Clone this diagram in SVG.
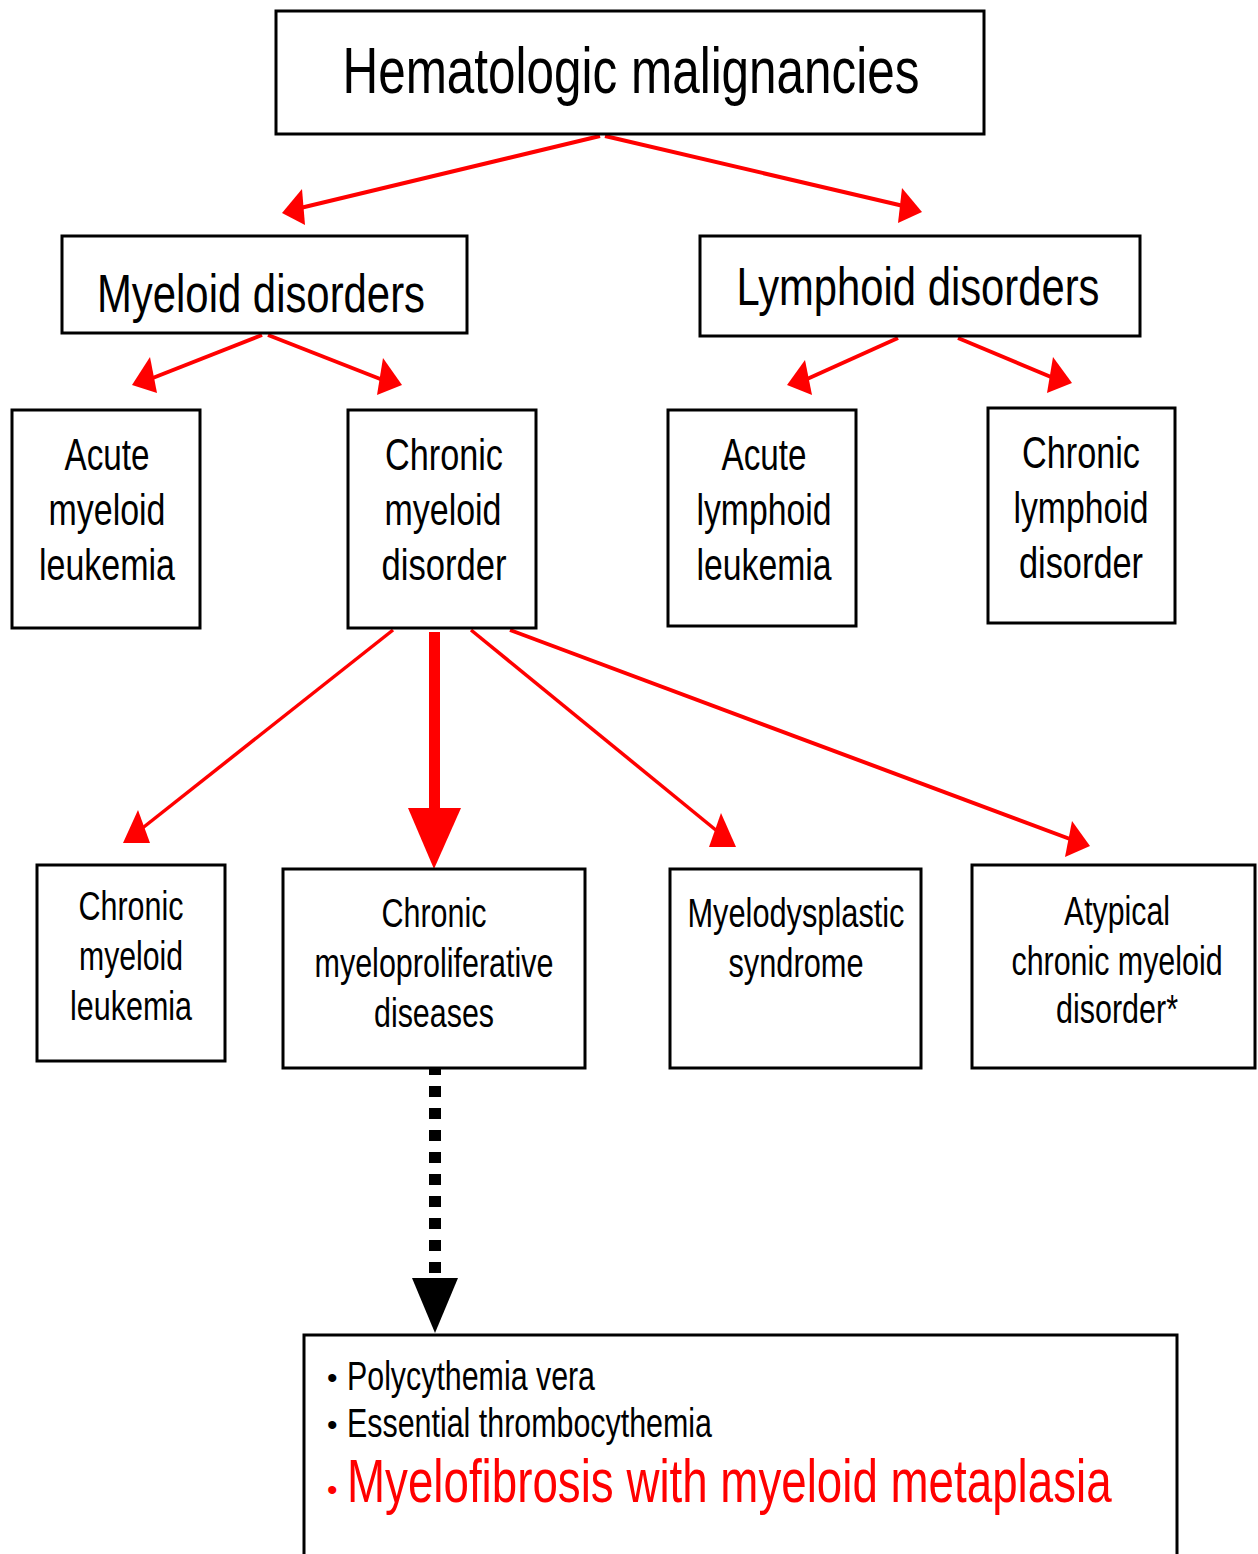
<svg xmlns="http://www.w3.org/2000/svg" width="1258" height="1554" viewBox="0 0 1258 1554">
<style>
.box{fill:#fff;stroke:#000;stroke-width:3}
.t{font-family:"Liberation Sans",Arial,sans-serif;fill:#000;text-anchor:middle}
.tl{font-family:"Liberation Sans",Arial,sans-serif;fill:#000}
.red{fill:#ff0000}
.ln{stroke:#ff0000;stroke-width:4;fill:none}
.ah{fill:#ff0000}
</style>
<rect width="1258" height="1554" fill="#fff"/>
<g id="connectors">
  <line class="ln" x1="600" y1="136" x2="292" y2="210"/>
  <polygon class="ah" points="302,189 282,213 305,225"/>
  <line class="ln" x1="605" y1="136" x2="912" y2="208"/>
  <polygon class="ah" points="902,188 922,212 898,223"/>
  <line class="ln" x1="262" y1="335" x2="140" y2="383"/>
  <polygon class="ah" points="150,357 132,385 157,393"/>
  <line class="ln" x1="268" y1="335" x2="393" y2="384"/>
  <polygon class="ah" points="383,358 402,385 377,395"/>
  <line class="ln" x1="898" y1="338" x2="796" y2="384"/>
  <polygon class="ah" points="805,360 787,385 812,395"/>
  <line class="ln" x1="958" y1="338" x2="1063" y2="382"/>
  <polygon class="ah" points="1053,357 1072,383 1047,393"/>
  <line class="ln" x1="393" y1="630" x2="140" y2="830" style="stroke-width:3.5"/>
  <polygon class="ah" points="138,810 123,843 150,843"/>
  <rect x="429" y="632" width="11" height="178" fill="#ff0000"/>
  <polygon class="ah" points="408,808 461,808 434,869"/>
  <line class="ln" x1="471" y1="630" x2="717" y2="831" style="stroke-width:3.5"/>
  <polygon class="ah" points="721,813 709,847 736,847"/>
  <line class="ln" x1="510" y1="630" x2="1078" y2="842"/>
  <polygon class="ah" points="1072,821 1090,846 1065,857"/>
  <line x1="435" y1="1064" x2="435" y2="1276" stroke="#000" stroke-width="12" stroke-dasharray="11 11"/>
  <polygon points="412,1278 458,1278 435,1333" fill="#000"/>
</g>
<g id="n-hematologic">
  <rect class="box" x="276" y="11" width="708" height="123"/>
  <text class="t" x="631" y="93" font-size="64" textLength="577" lengthAdjust="spacingAndGlyphs">Hematologic malignancies</text>
</g>
<g id="n-myeloid">
  <rect class="box" x="62" y="236" width="405" height="97"/>
  <text class="t" x="261" y="312" font-size="54" textLength="328" lengthAdjust="spacingAndGlyphs">Myeloid disorders</text>
</g>
<g id="n-lymphoid">
  <rect class="box" x="700" y="236" width="440" height="100"/>
  <text class="t" x="918" y="305" font-size="54" textLength="363" lengthAdjust="spacingAndGlyphs">Lymphoid disorders</text>
</g>
<g id="n-aml">
  <rect class="box" x="12" y="410" width="188" height="218"/>
  <text class="t" font-size="44"><tspan x="107" y="470" textLength="85" lengthAdjust="spacingAndGlyphs">Acute</tspan><tspan x="107" y="525" textLength="117" lengthAdjust="spacingAndGlyphs">myeloid</tspan><tspan x="107" y="580" textLength="136" lengthAdjust="spacingAndGlyphs">leukemia</tspan></text>
</g>
<g id="n-cmd">
  <rect class="box" x="348" y="410" width="188" height="218"/>
  <text class="t" font-size="44"><tspan x="444" y="470" textLength="118" lengthAdjust="spacingAndGlyphs">Chronic</tspan><tspan x="443" y="525" textLength="117" lengthAdjust="spacingAndGlyphs">myeloid</tspan><tspan x="444" y="580" textLength="125" lengthAdjust="spacingAndGlyphs">disorder</tspan></text>
</g>
<g id="n-all">
  <rect class="box" x="668" y="410" width="188" height="216"/>
  <text class="t" font-size="44"><tspan x="764" y="470" textLength="85" lengthAdjust="spacingAndGlyphs">Acute</tspan><tspan x="764" y="525" textLength="135" lengthAdjust="spacingAndGlyphs">lymphoid</tspan><tspan x="764" y="580" textLength="135" lengthAdjust="spacingAndGlyphs">leukemia</tspan></text>
</g>
<g id="n-cld">
  <rect class="box" x="988" y="408" width="187" height="215"/>
  <text class="t" font-size="44"><tspan x="1081" y="468" textLength="118" lengthAdjust="spacingAndGlyphs">Chronic</tspan><tspan x="1081" y="523" textLength="135" lengthAdjust="spacingAndGlyphs">lymphoid</tspan><tspan x="1081" y="578" textLength="124" lengthAdjust="spacingAndGlyphs">disorder</tspan></text>
</g>
<g id="n-cml">
  <rect class="box" x="37" y="865" width="188" height="196"/>
  <text class="t" font-size="40"><tspan x="131" y="920" textLength="105" lengthAdjust="spacingAndGlyphs">Chronic</tspan><tspan x="131" y="970" textLength="104" lengthAdjust="spacingAndGlyphs">myeloid</tspan><tspan x="131" y="1020" textLength="122" lengthAdjust="spacingAndGlyphs">leukemia</tspan></text>
</g>
<g id="n-cmpd">
  <rect class="box" x="283" y="869" width="302" height="199"/>
  <text class="t" font-size="40"><tspan x="434" y="927" textLength="105" lengthAdjust="spacingAndGlyphs">Chronic</tspan><tspan x="434" y="977" textLength="239" lengthAdjust="spacingAndGlyphs">myeloproliferative</tspan><tspan x="434" y="1027" textLength="120" lengthAdjust="spacingAndGlyphs">diseases</tspan></text>
</g>
<g id="n-mds">
  <rect class="box" x="670" y="869" width="251" height="199"/>
  <text class="t" font-size="40"><tspan x="796" y="927" textLength="217" lengthAdjust="spacingAndGlyphs">Myelodysplastic</tspan><tspan x="796" y="977" textLength="135" lengthAdjust="spacingAndGlyphs">syndrome</tspan></text>
</g>
<g id="n-atypical">
  <rect class="box" x="972" y="865" width="283" height="203"/>
  <text class="t" x="1117" y="925" font-size="40" textLength="106" lengthAdjust="spacingAndGlyphs">Atypical</text>
  <text class="t" font-size="40" transform="translate(1117,975) scale(0.765,1)" x="0" y="0" textLength="276" lengthAdjust="spacingAndGlyphs">chronic myeloid</text>
  <text class="t" x="1117" y="1023" font-size="40" textLength="122" lengthAdjust="spacingAndGlyphs">disorder*</text>
</g>
<g id="n-list">
  <path class="box" d="M304,1554 V1335 H1177 V1554"/>
  <text class="tl" x="327" y="1388" font-size="30">•</text>
  <text class="tl" x="347" y="1390" font-size="40" textLength="248" lengthAdjust="spacingAndGlyphs">Polycythemia vera</text>
  <text class="tl" x="327" y="1435" font-size="30">•</text>
  <text class="tl" x="347" y="1437" font-size="40" textLength="365" lengthAdjust="spacingAndGlyphs">Essential thrombocythemia</text>
  <text class="tl red" x="327" y="1500" font-size="30">•</text>
  <text class="tl red" font-size="62" transform="translate(347,1502) scale(0.738,1)" x="0" y="0" textLength="1036" lengthAdjust="spacingAndGlyphs">Myelofibrosis with myeloid metaplasia</text>
</g>
</svg>
